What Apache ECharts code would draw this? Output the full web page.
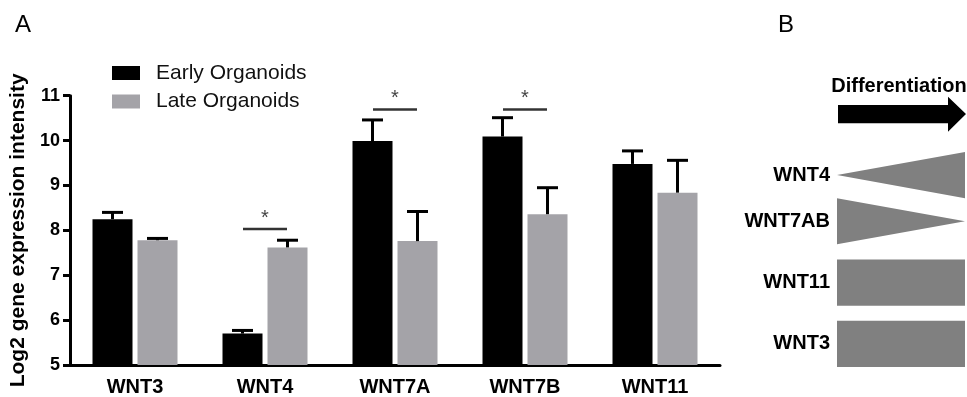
<!DOCTYPE html>
<html>
<head>
<meta charset="utf-8">
<title>WNT expression in organoids</title>
<script src="https://cdn.jsdelivr.net/npm/echarts/dist/echarts.min.js"></script>
<style>
  html, body { margin: 0; padding: 0; background: #fff; }
  #chart { width: 967px; height: 397px; }
</style>
</head>
<body>
<div id="chart"></div>
<script>
// Panel A: log2 expression per WNT gene (mean and upper SEM)
const genes = ['WNT3', 'WNT4', 'WNT7A', 'WNT7B', 'WNT11'];
const earlyMean = [8.25, 5.70, 9.99, 10.09, 9.48];
const earlyErr  = [0.15, 0.07, 0.47, 0.42, 0.29];
const lateMean  = [7.78, 7.62, 7.76, 8.36, 8.84];
const lateErr   = [0.04, 0.16, 0.66, 0.59, 0.72];
const yMin = 5, yMax = 11, yStep = 1;

// significance brackets (gene, bracket level)
const sigGenes = ['WNT4', 'WNT7A', 'WNT7B'];
const sigLevel = [8.03, 10.69, 10.69];

// Panel B: relative expression at start and end of differentiation
const trendGenes = ['WNT4', 'WNT7AB', 'WNT11', 'WNT3'];
const trendStart = [0, 1, 1, 1];
const trendEnd   = [1, 0, 1, 1];

const FONT = 'Liberation Sans, Arial, Helvetica, sans-serif';
const BLACK = '#000000';
const GREY = '#a4a3a8';
const SHAPE_GREY = '#808080';
const BAR_W = 40;
const BAR_GAP = 5;
const BAR_OFF = (BAR_W + BAR_GAP) / 2;

// vertical stacking of panel B shapes: tapered shapes sit flush, others are spaced
const SHAPE_GAP = 0.33;
const slotTop = [];
let acc = 0;
trendGenes.forEach((g, i) => {
  if (i > 0) {
    const tapered = (k) => trendStart[k] !== trendEnd[k];
    acc += (tapered(i) && tapered(i - 1)) ? 0 : SHAPE_GAP;
  }
  slotTop.push(acc);
  acc += 1;
});
const slotTotal = acc;

const chart = echarts.init(document.getElementById('chart'), null, { renderer: 'canvas' });

function errorBarSeries(name, means, errs, offset) {
  return {
    name: name + ' SEM',
    type: 'custom',
    xAxisIndex: 0, yAxisIndex: 0,
    z: 5,
    silent: true,
    data: means.map((m, i) => [i, m, errs[i]]),
    renderItem(params, api) {
      const i = api.value(0), m = api.value(1), e = api.value(2);
      const base = api.coord([i, m]);
      const top = api.coord([i, m + e]);
      const x = base[0] + offset;
      const st = { stroke: BLACK, lineWidth: 3 };
      return {
        type: 'group',
        children: [
          { type: 'line', shape: { x1: x, y1: base[1], x2: x, y2: top[1] }, style: st },
          { type: 'line', shape: { x1: x - 10.5, y1: top[1], x2: x + 10.5, y2: top[1] }, style: st }
        ]
      };
    }
  };
}

const option = {
  animation: false,
  backgroundColor: '#ffffff',
  textStyle: { fontFamily: FONT },
  legend: {
    orient: 'vertical',
    left: 107, top: 57.5,
    itemWidth: 28, itemHeight: 14, itemGap: 7.5,
    icon: 'rect',
    selectedMode: false,
    data: ['Early Organoids', 'Late Organoids'],
    textStyle: { fontSize: 21, color: '#111', fontFamily: FONT, lineHeight: 21, padding: [0, 0, 0, 11] }
  },
  grid: [
    { left: 70, right: 247, top: 95.7, bottom: 32 },
    { left: 837, width: 128, top: 152, height: 215 }
  ],
  xAxis: [
    {
      type: 'category', gridIndex: 0, data: genes,
      axisLine: { lineStyle: { color: BLACK, width: 3 } },
      axisTick: { alignWithLabel: true, length: 7, lineStyle: { color: BLACK, width: 3 } },
      axisLabel: { color: BLACK, fontSize: 20, fontWeight: 'bold', fontFamily: FONT, margin: 12 }
    },
    { type: 'value', gridIndex: 1, min: 0, max: 1, show: false }
  ],
  yAxis: [
    {
      type: 'value', gridIndex: 0, min: yMin, max: yMax, interval: yStep,
      name: 'Log2 gene expression intensity',
      nameLocation: 'middle', nameGap: 40, nameRotate: 90,
      nameTextStyle: { color: BLACK, fontSize: 21, fontWeight: 'bold', fontFamily: FONT },
      axisLine: { show: true, lineStyle: { color: BLACK, width: 3 } },
      axisTick: { show: true, length: 7, lineStyle: { color: BLACK, width: 3 } },
      axisLabel: { color: BLACK, fontSize: 18, fontWeight: 'bold', fontFamily: FONT, margin: 10 },
      splitLine: { show: false }
    },
    { type: 'value', gridIndex: 1, min: 0, max: slotTotal, inverse: true, show: false }
  ],
  series: [
    {
      name: 'Early Organoids', type: 'bar', xAxisIndex: 0, yAxisIndex: 0,
      data: earlyMean, barWidth: BAR_W, barGap: (BAR_GAP / BAR_W * 100) + '%',
      itemStyle: { color: BLACK }, clip: true
    },
    {
      name: 'Late Organoids', type: 'bar', xAxisIndex: 0, yAxisIndex: 0,
      data: lateMean, barWidth: BAR_W,
      itemStyle: { color: GREY }, clip: true
    },
    errorBarSeries('Early Organoids', earlyMean, earlyErr, -BAR_OFF),
    errorBarSeries('Late Organoids', lateMean, lateErr, BAR_OFF),
    {
      name: 'significance',
      type: 'custom', xAxisIndex: 0, yAxisIndex: 0, z: 6, silent: true, clip: false,
      data: sigGenes.map((g, k) => [genes.indexOf(g), sigLevel[k]]),
      renderItem(params, api) {
        const p = api.coord([api.value(0), api.value(1)]);
        return {
          type: 'group',
          children: [
            { type: 'line', shape: { x1: p[0] - 22, y1: p[1], x2: p[0] + 22, y2: p[1] },
              style: { stroke: '#333', lineWidth: 2.5 } },
            { type: 'text', x: p[0], y: p[1] - 11,
              style: { text: '*', fill: '#444', font: '20px ' + FONT, align: 'center', verticalAlign: 'middle' } }
          ]
        };
      }
    },
    {
      name: 'differentiation trend',
      type: 'custom', xAxisIndex: 1, yAxisIndex: 1, silent: true, clip: false,
      data: trendGenes.map((g, i) => [i]),
      renderItem(params, api) {
        const i = api.value(0);
        const top = slotTop[i], mid = top + 0.5;
        const l = api.coord([0, mid]);
        const r = api.coord([1, mid]);
        const hs = api.coord([0, mid - trendStart[i] / 2])[1];
        const he = api.coord([1, mid - trendEnd[i] / 2])[1];
        const ls = api.coord([0, mid + trendStart[i] / 2])[1];
        const le = api.coord([1, mid + trendEnd[i] / 2])[1];
        return {
          type: 'group',
          children: [
            { type: 'polygon',
              shape: { points: [[l[0], hs], [r[0], he], [r[0], le], [l[0], ls]] },
              style: { fill: SHAPE_GREY } },
            { type: 'text', x: l[0] - 7, y: l[1],
              style: { text: trendGenes[i], fill: BLACK, font: 'bold 20px ' + FONT,
                       align: 'right', verticalAlign: 'middle' } }
          ]
        };
      }
    }
  ],
  graphic: [
    { type: 'text', x: 15, y: 25.5,
      style: { text: 'A', fill: BLACK, font: '24px ' + FONT, verticalAlign: 'middle' } },
    { type: 'text', x: 778, y: 25,
      style: { text: 'B', fill: BLACK, font: '24px ' + FONT, verticalAlign: 'middle' } },
    { type: 'text', x: 899, y: 86,
      style: { text: 'Differentiation', fill: BLACK, font: 'bold 20px ' + FONT,
               align: 'center', verticalAlign: 'middle' } },
    { type: 'polygon',
      shape: { points: [[838, 105], [948, 105], [948, 96.7], [966, 114], [948, 131.7], [948, 123.3], [838, 123.3]] },
      style: { fill: BLACK } }
  ]
};

chart.setOption(option);
</script>
</body>
</html>
